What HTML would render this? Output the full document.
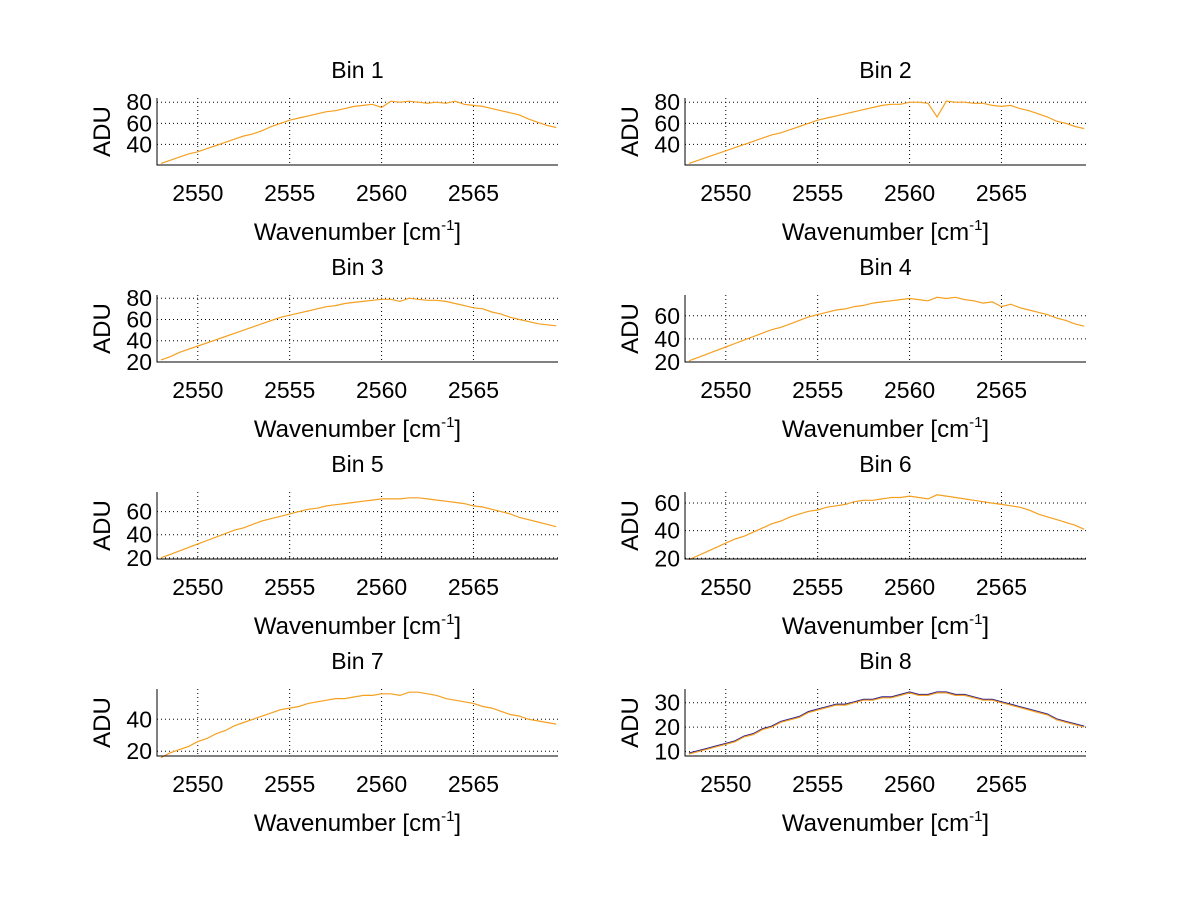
<!DOCTYPE html>
<html><head><meta charset="utf-8"><style>
body{margin:0;background:#fff}
svg{display:block;font-family:"Liberation Sans",sans-serif}
</style></head><body>
<svg id="fig" width="1200" height="901" xmlns="http://www.w3.org/2000/svg"></svg>
<script>
const xTicks = [2550, 2555, 2560, 2565];
const binTitles = ["Bin 1","Bin 2","Bin 3","Bin 4","Bin 5","Bin 6","Bin 7","Bin 8"];
const xStart = 2548, xStep = 0.5;
const bin1 = [22,25,28,31,33,36,39,42,45,48,50,53,57,60,63,65,67,69,71,72,74,76,77,78,75,81,80,81,80,79,80,79,81,78,77,76,74,72,70,68,64,61,58,56];
const bin2 = [22,25,28,31,34,37,40,43,46,49,51,54,57,60,63,65,67,69,71,73,75,77,78,78,80,80,79,66,81,80,80,79,79,77,76,77,74,72,69,66,62,60,57,55];
const bin3 = [22,25,29,32,35,38,41,44,47,50,53,56,59,62,64,66,68,70,72,73,75,76,77,78,79,79,77,80,79,78,78,77,75,73,71,70,67,65,62,60,58,56,55,54];
const bin4 = [21,24,27,30,33,36,39,42,45,48,50,53,56,59,61,63,65,66,68,69,71,72,73,74,75,74,73,76,75,76,74,73,71,72,68,70,67,65,63,61,58,56,53,51];
const bin5 = [20,23,26,29,32,35,38,41,44,46,49,52,54,56,58,60,62,63,65,66,67,68,69,70,71,71,71,72,72,71,70,69,68,67,65,64,62,60,58,55,53,51,49,47];
const bin6 = [19,22,25,28,31,34,36,39,42,45,47,50,52,54,55,57,58,59,61,62,62,63,64,64,65,64,63,66,65,64,63,62,61,60,59,58,57,55,52,50,48,46,44,41];
const bin7 = [16,19,21,23,26,28,31,33,36,38,40,42,44,46,47,48,50,51,52,53,53,54,55,55,56,56,55,57,57,56,55,53,52,51,50,48,47,45,43,42,40,39,38,37];
const bin8 = [9,10,11,12,13,14,16,17,19,20,22,23,24,26,27,28,29,29,30,31,31,32,32,33,34,33,33,34,34,33,33,32,31,31,30,29,28,27,26,25,23,22,21,20];
const binData = [bin1,bin2,bin3,bin4,bin5,bin6,bin7,bin8];
const yTicks = [[40,60,80],[40,60,80],[20,40,60,80],[20,40,60],[20,40,60],[20,40,60],[20,40],[10,20,30]];
const yRanges = [[20.5,84],[20.5,84],[20,83],[20,78],[19,77],[19.5,68],[17,59],[8.2,35.6]];

const svg = document.getElementById('fig');
const NS = 'http://www.w3.org/2000/svg';
function mk(tag, attrs, parent){const e=document.createElementNS(NS,tag);for(const k in attrs)e.setAttribute(k,attrs[k]);(parent||svg).appendChild(e);return e;}
const xMin=2547.78, xMax=2569.6, W=401, H=67;
const lefts=[157,685], tops=[98,295,492,689];
binData.forEach((d,i)=>{
  const x0=lefts[i%2], y0=tops[Math.floor(i/2)];
  const [ymin,ymax]=yRanges[i];
  const sx=v=>x0+(v-xMin)/(xMax-xMin)*W;
  const sy=v=>y0+H-(v-ymin)/(ymax-ymin)*H;
  const g=mk('g',{});
  
  
  xTicks.forEach(t=>{
    const l=mk('line',{x1:sx(t),x2:sx(t),y1:y0,y2:y0+H,stroke:'#000','stroke-width':1,'stroke-dasharray':'1,3'},g);
    
    
    const tx=mk('text',{x:sx(t),y:y0+H+36,'font-size':23,'text-anchor':'middle'},g);
    tx.textContent=t;
    
    
  });
  yTicks[i].forEach(t=>{
    const l=mk('line',{x1:x0,x2:x0+W,y1:sy(t),y2:sy(t),stroke:'#000','stroke-width':1,'stroke-dasharray':'1,3'},g);
    
    
    const tx=mk('text',{x:x0-5,y:sy(t)+8,'font-size':23,'text-anchor':'end'},g);
    tx.textContent=t;
    
    
  });
  let p1='';
  d.forEach((v,k)=>{const X=sx(xStart+k*xStep);p1+=(k?'L':'M')+X.toFixed(1)+','+sy(v).toFixed(1);});
  if(i===7){
    const ln1=mk('path',{d:p1,fill:'none',stroke:'#302090','stroke-width':1.4,transform:'translate(0,-0.8)'},g);
    
    
  }
  const ln=mk('path',{d:p1,fill:'none',stroke:'#f5a020','stroke-width':1.2},g);
  
  
  const ax=mk('path',{d:`M${x0},${y0}V${y0+H}H${x0+W}`,fill:'none',stroke:'#000','stroke-width':1},g);
  
  
  const ti=mk('text',{x:x0+W/2,y:y0-20,'font-size':23,'text-anchor':'middle'},g);
  ti.textContent=binTitles[i];
  
  
  const xl=mk('text',{x:x0+W/2,y:y0+H+75,'font-size':24,'text-anchor':'middle'},g);
  xl.innerHTML='Wavenumber [cm<tspan dy="-10" font-size="15">-1</tspan><tspan dy="10">]</tspan>';
  
  
  const yl=mk('text',{x:0,y:0,'font-size':24,'text-anchor':'middle',transform:`translate(${x0-47},${y0+H/2}) rotate(-90)`},g);
  yl.textContent='ADU';
  
  
});
</script>
</body></html>
